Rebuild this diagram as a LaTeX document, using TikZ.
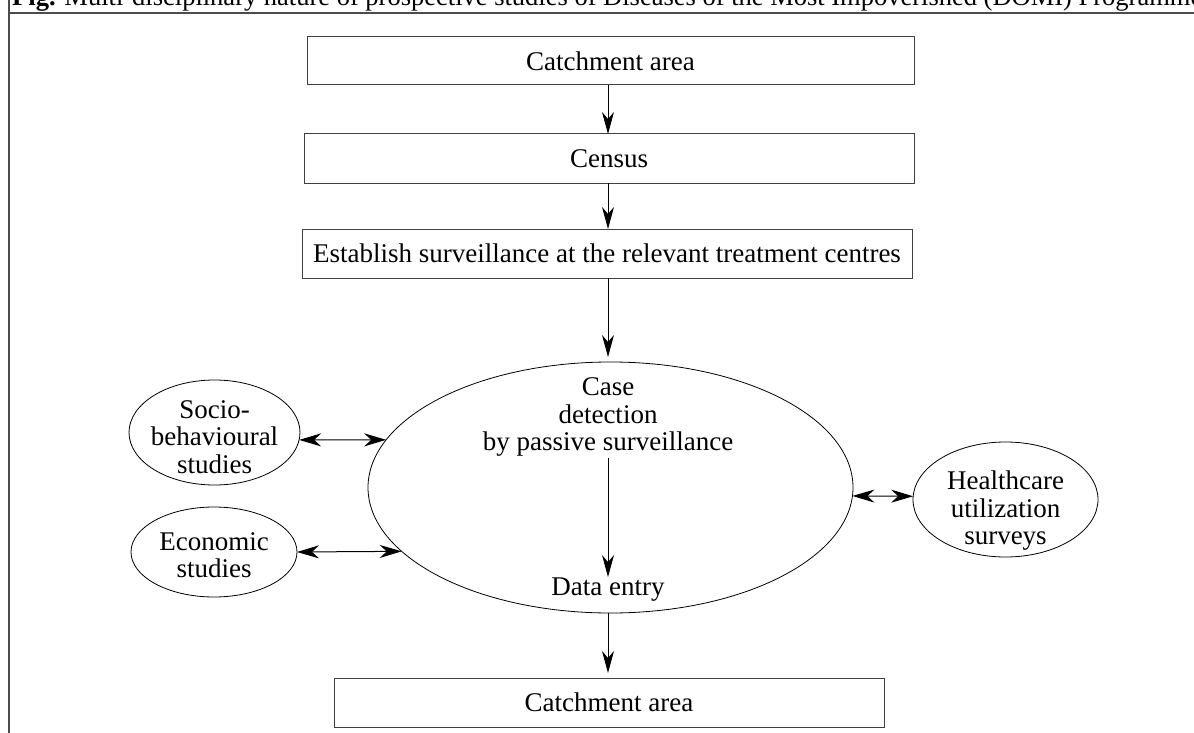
\documentclass[tikz,border=0pt]{standalone}
\usepackage{fontspec}
\setmainfont{Liberation Serif}
\usetikzlibrary{arrows.meta,shapes.geometric}
\begin{document}
\begin{tikzpicture}[x=1pt,y=-1pt,
  box/.style={draw=black!75, line width=1pt, rectangle, inner sep=0pt, outer sep=0pt, font=\fontsize{27}{27.5}\selectfont},
  oval/.style={draw=black, line width=0.8pt, ellipse, inner sep=0pt, outer sep=0pt},
  txt/.style={inner sep=0pt, align=center, font=\fontsize{27}{27.5}\selectfont},
  arr/.style={-{Stealth[length=22pt,width=12pt,inset=7pt]}, line width=1pt},
  darr/.style={{Stealth[length=22pt,width=13pt,inset=7pt]}-{Stealth[length=22pt,width=13pt,inset=7pt]}, line width=1pt},
  frameline/.style={draw=black!70, line width=1.2pt}]
\clip (0,0) rectangle (1194,733);
% frame
\coordinate (ftop) at (9,0);
\coordinate (fbot) at (9,733);
\coordinate (hl) at (9,13);
\coordinate (hr) at (1194,13);
\draw[frameline] (ftop) -- (fbot);
\draw[frameline] (hl) -- (hr);
% title
\node[anchor=base west, inner sep=0pt, font=\fontsize{26.5}{28}\selectfont] (title) at (12,6)
  {\textbf{Fig.} Multi-disciplinary nature of prospective studies of Diseases of the Most Impoverished (DOMI) Programme};
% boxes
\node[box, minimum width=607pt, minimum height=48pt] (b1) at (610.5,61) {Catchment area};
\node[box, minimum width=610pt, minimum height=49pt] (b2) at (609,158.5) {Census};
\node[box, minimum width=610pt, minimum height=49pt] (b3) at (607,253.5) {Establish surveillance at the relevant treatment centres};
\node[box, minimum width=550pt, minimum height=49pt] (b4) at (609,702.5) {Catchment area};
% ellipses
\node[oval, minimum width=485pt, minimum height=251pt] (big) at (610.5,487.5) {};
\node[oval, minimum width=171pt, minimum height=105pt] (socio) at (214.5,432.5) {};
\node[oval, minimum width=166pt, minimum height=90pt] (econ) at (214,552) {};
\node[oval, minimum width=185pt, minimum height=115pt] (hc) at (1005.5,499.5) {};
% texts
\node[txt] (cd) at (608,417) {Case\\detection\\by passive surveillance};
\node[txt] (de) at (608,590) {Data entry};
\node[txt] (sociot) at (214.5,437) {Socio-\\behavioural\\studies};
\node[txt] (econt) at (214,555) {Economic\\studies};
\node[txt] (hct) at (1005.5,511) {Healthcare\\utilization\\surveys};
% arrows
\draw[arr] (b1.south -| 608,0) -- (b2.north -| 608,0);
\draw[arr] (b2.south -| 608,0) -- (b3.north -| 608,0);
\draw[arr, shorten >=5pt] (b3.south -| 608,0) -- (big.north -| 608,0);
\draw[arr, shorten <=1pt, shorten >=1pt] (cd.south) -- (de.north);
\draw[arr, shorten >=5pt] (big.south -| 608,0) -- (b4.north -| 608,0);
\draw[darr] (socio.-5) -- (big.168);
\draw[darr] (econ.east) -- (big.197);
\draw[darr] (big.-2) -- (hc.178);
\end{tikzpicture}
\end{document}
